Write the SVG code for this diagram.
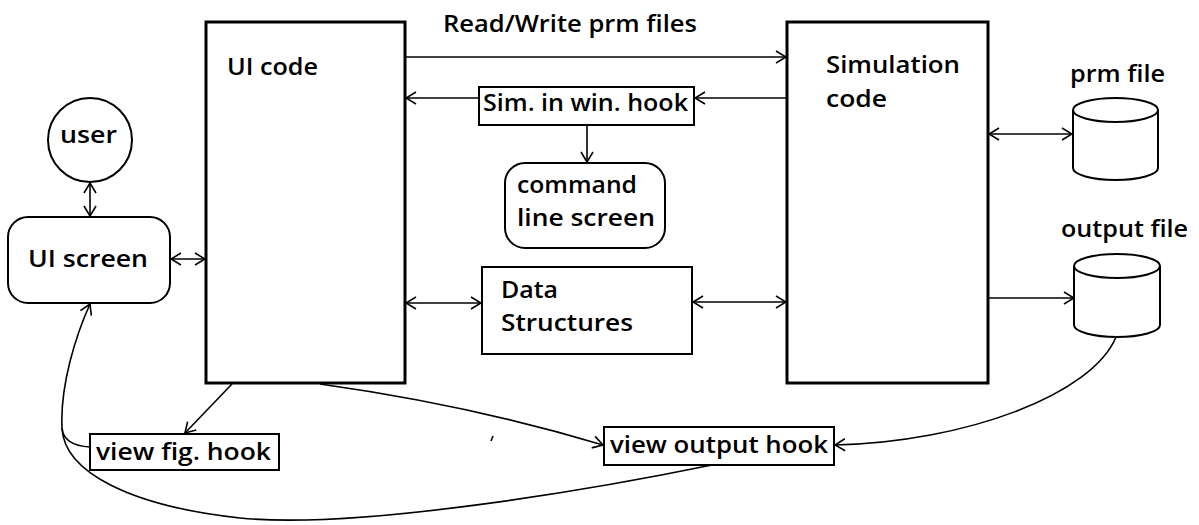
<svg xmlns="http://www.w3.org/2000/svg" width="1199" height="525" viewBox="0 0 1199 525">
<style>
text{font-family:"Open Sans","Liberation Sans",Arial,sans-serif;font-size:24px;font-weight:600;fill:#000}
.big{fill:#fff;stroke:#000;stroke-width:3}
.box{fill:#fff;stroke:#000;stroke-width:2}
.c{fill:none;stroke:#000;stroke-width:1.6}
</style>
<defs>
<marker id="ah" viewBox="-1 -7 12 14" refX="10" refY="0" markerWidth="12" markerHeight="14" markerUnits="userSpaceOnUse" orient="auto-start-reverse">
<path d="M0,-6 L10,0 L0,6" fill="none" stroke="#000" stroke-width="1.6"/>
</marker>
</defs>
<rect width="1199" height="525" fill="#fff"/>

<g id="connectors">
<line class="c" x1="405" y1="57" x2="786" y2="57" marker-end="url(#ah)"/>
<line class="c" x1="786" y1="98" x2="695" y2="98" marker-end="url(#ah)"/>
<line class="c" x1="479" y1="98" x2="406" y2="98" marker-end="url(#ah)"/>
<line class="c" x1="587" y1="125" x2="587" y2="162" marker-end="url(#ah)"/>
<line class="c" x1="90" y1="183" x2="90" y2="216" marker-start="url(#ah)" marker-end="url(#ah)"/>
<line class="c" x1="171" y1="259" x2="205" y2="259" marker-start="url(#ah)" marker-end="url(#ah)"/>
<line class="c" x1="406" y1="303" x2="481" y2="303" marker-start="url(#ah)" marker-end="url(#ah)"/>
<line class="c" x1="693" y1="302" x2="786" y2="302" marker-start="url(#ah)" marker-end="url(#ah)"/>
<line class="c" x1="989" y1="134" x2="1072" y2="134" marker-start="url(#ah)" marker-end="url(#ah)"/>
<line class="c" x1="989" y1="298" x2="1074" y2="298" marker-end="url(#ah)"/>
<line class="c" x1="232" y1="384" x2="185" y2="433" marker-end="url(#ah)"/>
<path class="c" d="M320,384 Q470,405 603,445" marker-end="url(#ah)"/>
<path class="c" d="M1116,337 C1092,395 965,442 835,445" marker-end="url(#ah)"/>
<path class="c" d="M712,465 C600,488 360,530 240,518 C130,506 64,472 62,428 C60,385 76,335 90,304" marker-end="url(#ah)"/>
<path class="c" d="M90,447 C72,446 63,440 62,428"/>
<line class="c" x1="491" y1="441" x2="493" y2="436"/>
</g>

<g id="ui-code">
<rect class="big" x="206" y="22" width="199" height="361"/>
<text x="227" y="75" textLength="91" lengthAdjust="spacingAndGlyphs">UI code</text>
</g>

<g id="simulation-code">
<rect class="big" x="787" y="22" width="201" height="361"/>
<text x="826" y="73" textLength="134" lengthAdjust="spacingAndGlyphs">Simulation</text>
<text x="826" y="107" textLength="61" lengthAdjust="spacingAndGlyphs">code</text>
</g>

<g id="rw-label">
<text x="443" y="32" textLength="254" lengthAdjust="spacingAndGlyphs">Read/Write prm files</text>
</g>

<g id="user">
<circle class="box" cx="90" cy="140" r="42"/>
<text x="60" y="143" textLength="57" lengthAdjust="spacingAndGlyphs">user</text>
</g>

<g id="ui-screen">
<rect class="box" x="8" y="217" width="162" height="86" rx="20" ry="20"/>
<text x="28" y="267" textLength="120" lengthAdjust="spacingAndGlyphs">UI screen</text>
</g>

<g id="sim-hook">
<rect class="box" x="479" y="87" width="215" height="38"/>
<text x="483" y="111" textLength="205" lengthAdjust="spacingAndGlyphs">Sim. in win. hook</text>
</g>

<g id="command-line-screen">
<rect class="box" x="505" y="163" width="160" height="85" rx="20" ry="20"/>
<text x="517" y="193" textLength="120" lengthAdjust="spacingAndGlyphs">command</text>
<text x="517" y="226" textLength="138" lengthAdjust="spacingAndGlyphs">line screen</text>
</g>

<g id="data-structures">
<rect class="box" x="482" y="267" width="210" height="87"/>
<text x="501" y="298" textLength="57" lengthAdjust="spacingAndGlyphs">Data</text>
<text x="501" y="331" textLength="132" lengthAdjust="spacingAndGlyphs">Structures</text>
</g>

<g id="prm-file">
<text x="1070" y="82" textLength="95" lengthAdjust="spacingAndGlyphs">prm file</text>
<path class="box" d="M1073,110 L1073,168 A42.5,12 0 0 0 1158,168 L1158,110"/>
<ellipse class="box" cx="1115.5" cy="110" rx="42.5" ry="12"/>
</g>

<g id="output-file">
<text x="1061" y="237" textLength="127" lengthAdjust="spacingAndGlyphs">output file</text>
<path class="box" d="M1074,266 L1074,325 A43,12 0 0 0 1160,325 L1160,266"/>
<ellipse class="box" cx="1117" cy="266" rx="43" ry="12"/>
</g>

<g id="view-fig-hook">
<rect class="box" x="90" y="434" width="189" height="36"/>
<text x="96" y="460" textLength="175" lengthAdjust="spacingAndGlyphs">view fig. hook</text>
</g>

<g id="view-output-hook">
<rect class="box" x="604" y="427" width="230" height="38"/>
<text x="610" y="453" textLength="218" lengthAdjust="spacingAndGlyphs">view output hook</text>
</g>
</svg>
